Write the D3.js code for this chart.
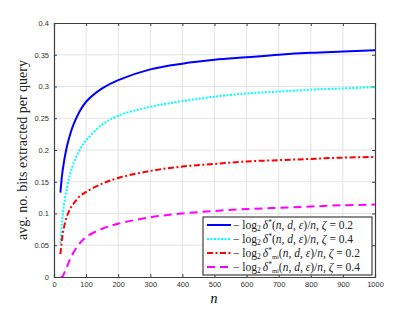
<!DOCTYPE html>
<html><head><meta charset="utf-8">
<script src="https://cdn.jsdelivr.net/npm/d3@7/dist/d3.min.js"></script>
<style>body{margin:0;background:#fff}svg{display:block}
.serif{font-family:"Liberation Serif","DejaVu Serif",serif}
</style>
</head><body>
<svg id="c" width="415" height="312"></svg>
<script>
const nValues = [20,25,30,40,50,60,80,100,150,200,300,400,500,600,700,800,900,1000];
const blueVals = [0.133,0.160,0.178,0.205,0.224,0.239,0.261,0.276,0.297,0.310,0.327,0.336,0.342,0.346,0.350,0.353,0.355,0.357];
const cyanVals = [0.053,0.085,0.110,0.140,0.162,0.178,0.200,0.215,0.240,0.254,0.268,0.277,0.284,0.289,0.292,0.295,0.297,0.299];
const redVals  = [0.036,0.060,0.076,0.095,0.107,0.115,0.127,0.134,0.147,0.156,0.167,0.174,0.178,0.182,0.184,0.186,0.188,0.189];
const magVals  = [0.000,0.000,0.004,0.016,0.028,0.038,0.053,0.063,0.076,0.084,0.094,0.100,0.104,0.107,0.109,0.111,0.113,0.114];
const xTicks = [0,100,200,300,400,500,600,700,800,900,1000];
const yTicks = [0,0.05,0.1,0.15,0.2,0.25,0.3,0.35,0.4];
const yTickLabels = ["0","0.05","0.1","0.15","0.2","0.25","0.3","0.35","0.4"];
const zetaLabels = ["0.2","0.4","0.2","0.4"];

const series = [
  {vals: blueVals, color:"#0000ff", dash:null, mi:false},
  {vals: cyanVals, color:"#00ffff", dash:"2,1.5", mi:false},
  {vals: redVals, color:"#ff0000", dash:"6,2.5,2,2.5", mi:true},
  {vals: magVals, color:"#ff00ff", dash:"8,5", mi:true}
];

const L=54, R=375, T=23, B=277;
const svg = d3.select("#c");
const x = d3.scaleLinear().domain([0,1000]).range([L,R]);
const y = d3.scaleLinear().domain([0,0.4]).range([B,T]);

// grid
const g = svg.append("g");
g.selectAll(".gx").data(xTicks.slice(1,-1)).enter().append("line")
  .attr("x1",d=>x(d)).attr("x2",d=>x(d)).attr("y1",T).attr("y2",B)
  .attr("stroke","#e3e3e3").attr("stroke-width",1);
g.selectAll(".gy").data(yTicks.slice(1,-1)).enter().append("line")
  .attr("y1",d=>y(d)).attr("y2",d=>y(d)).attr("x1",L).attr("x2",R)
  .attr("stroke","#e3e3e3").attr("stroke-width",1);

// axes
const axColor="#404040";
const xb = svg.append("g").attr("transform",`translate(0,${B})`)
  .call(d3.axisBottom(x).tickValues(xTicks).tickSize(-3).tickPadding(5).tickFormat(d3.format("d")));
const xt = svg.append("g").attr("transform",`translate(0,${T})`)
  .call(d3.axisTop(x).tickValues(xTicks).tickSize(-3).tickFormat(""));
const yl = svg.append("g").attr("transform",`translate(${L},0)`)
  .call(d3.axisLeft(y).tickValues(yTicks).tickSize(-3).tickPadding(5).tickFormat((d,i)=>yTickLabels[i]));
const yr = svg.append("g").attr("transform",`translate(${R},0)`)
  .call(d3.axisRight(y).tickValues(yTicks).tickSize(-3).tickFormat(""));
[xb,xt,yl,yr].forEach(a=>{
  a.selectAll("path").attr("stroke",axColor).attr("stroke-width",1.2);
  a.selectAll("line").attr("stroke",axColor);
  a.selectAll("text").attr("fill","#333").style("font-family","'Liberation Sans', Arial, sans-serif").style("font-size","7.5px");
});

// clip
svg.append("clipPath").attr("id","clip").append("rect")
  .attr("x",L).attr("y",T).attr("width",R-L).attr("height",B-T);

const line = d3.line().x(d=>x(d[0])).y(d=>y(d[1])).curve(d3.curveCatmullRom.alpha(0.5));
series.forEach(s=>{
  svg.append("path").attr("clip-path","url(#clip)")
    .datum(nValues.map((n,i)=>[n,s.vals[i]]))
    .attr("d",line).attr("fill","none").attr("stroke",s.color)
    .attr("stroke-width",2).attr("stroke-dasharray",s.dash);
});

// legend
const lx0=203, ly0=217, lw=169, lh=58;
svg.append("rect").attr("x",lx0).attr("y",ly0).attr("width",lw).attr("height",lh)
  .attr("fill","#fff").attr("stroke","#404040").attr("stroke-width",1.2);
series.forEach((s,i)=>{
  const cy = ly0+8+i*14;
  svg.append("line").attr("x1",207).attr("x2",231).attr("y1",cy).attr("y2",cy)
    .attr("stroke",s.color).attr("stroke-width",2).attr("stroke-dasharray",s.dash);
  const t = svg.append("text").attr("class","serif").attr("x",233).attr("y",cy+4)
    .style("font-size","11.5px").attr("fill","#222");
  t.append("tspan").text("\u2212 log");
  t.append("tspan").attr("dy",2).style("font-size","7.5px").text("2");
  t.append("tspan").attr("dy",-2).attr("dx",2).style("font-style","italic").text("\u03B4");
  t.append("tspan").attr("dy",-4).style("font-size","7.5px").text("*");
  if(s.mi){
    t.append("tspan").attr("dy",6).style("font-size","6.5px").text("mi");
    t.append("tspan").attr("dy",-2).text("(");
  } else {
    t.append("tspan").attr("dy",4).text("(");
  }
  t.append("tspan").style("font-style","italic").text("n");
  t.append("tspan").text(", ");
  t.append("tspan").style("font-style","italic").text("d");
  t.append("tspan").text(", ");
  t.append("tspan").style("font-style","italic").text("\u03B5");
  t.append("tspan").text(")/");
  t.append("tspan").style("font-style","italic").text("n");
  t.append("tspan").text(",  ");
  t.append("tspan").style("font-style","italic").text("\u03B6");
  t.append("tspan").text(" = "+zetaLabels[i]);
});

// axis labels
svg.append("text").attr("class","serif").attr("x",214).attr("y",303).attr("text-anchor","middle")
  .style("font-style","italic").style("font-size","14px").text("n");
svg.append("text").attr("class","serif").attr("transform",`translate(27,${(T+B)/2}) rotate(-90)`).attr("text-anchor","middle")
  .style("font-size","14px").attr("fill","#222").text("avg. no. bits extracted per query");
</script>
</body></html>
